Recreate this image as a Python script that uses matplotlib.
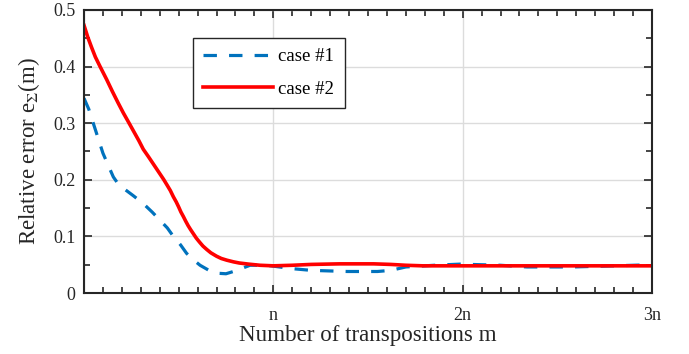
import matplotlib
matplotlib.use("Agg")
import matplotlib.pyplot as plt
from matplotlib.ticker import MultipleLocator

plt.rcParams['font.family'] = ['Liberation Serif', 'DejaVu Serif']
plt.rcParams['mathtext.fontset'] = 'stix'

case1_x = [0, 0.025, 0.049, 0.075, 0.10, 0.13, 0.155, 0.18, 0.208, 0.26, 0.313, 0.36, 0.40, 0.44,
           0.472, 0.51, 0.542, 0.58, 0.613, 0.66, 0.70, 0.75, 0.789, 0.83, 0.877, 0.965, 1.1, 1.2,
           1.39, 1.55, 1.62, 1.70, 1.85, 1.985, 2.2, 2.34, 2.58, 2.8, 3.0]
case1_y = [0.344, 0.325, 0.30, 0.273, 0.247, 0.224, 0.205, 0.193, 0.185, 0.172, 0.158, 0.143, 0.129,
           0.115, 0.10, 0.085, 0.070, 0.058, 0.049, 0.04, 0.035, 0.034, 0.038, 0.043, 0.049, 0.049,
           0.043, 0.040, 0.038, 0.038, 0.040, 0.046, 0.049, 0.051, 0.049, 0.046, 0.046, 0.048, 0.05]

case2_x = [0, 0.02, 0.04, 0.06, 0.085, 0.12, 0.15, 0.18, 0.208, 0.235, 0.26, 0.29, 0.313, 0.34,
           0.36, 0.38, 0.40, 0.42, 0.44, 0.456, 0.472, 0.487, 0.50, 0.512, 0.525, 0.537, 0.55, 0.563,
           0.577, 0.593, 0.61, 0.628, 0.648, 0.67, 0.70, 0.725, 0.754, 0.79, 0.82, 0.87, 0.93, 1.0,
           1.1, 1.2, 1.35, 1.53, 1.62, 1.7, 1.79, 2.0, 2.5, 3.0]
case2_y = [0.473, 0.452, 0.434, 0.417, 0.40, 0.377, 0.356, 0.336, 0.318, 0.302, 0.287, 0.269, 0.254,
           0.241, 0.231, 0.221, 0.211, 0.201, 0.19, 0.181, 0.170, 0.161, 0.152, 0.143, 0.135, 0.127,
           0.119, 0.112, 0.105, 0.097, 0.09, 0.083, 0.077, 0.071, 0.065, 0.061, 0.058, 0.055, 0.053,
           0.051, 0.049, 0.048, 0.049, 0.0505, 0.0515, 0.0515, 0.0505, 0.049, 0.048, 0.048, 0.048,
           0.048]

xtick_pos = [0, 1, 2, 3]
xtick_labels = ['', 'n', '2n', '3n']
ytick_pos = [0, 0.1, 0.2, 0.3, 0.4, 0.5]
ytick_labels = ['0', '0.1', '0.2', '0.3', '0.4', '0.5']

fig = plt.figure(figsize=(6.89, 3.54), dpi=100)
ax = fig.add_axes([84/689, 1-293/354, (652-84)/689, (293-10)/354])

ax.plot(case1_x, case1_y, color='#0072BD', lw=2.3, dashes=(4.2, 3.8), label='case #1')
ax.plot(case2_x, case2_y, color='#FF0000', lw=2.6, label='case #2')

ax.set_xlim(0, 3)
ax.set_ylim(0, 0.5)
ax.set_xticks(xtick_pos, xtick_labels)
ax.set_yticks(ytick_pos, ytick_labels)
ax.xaxis.set_minor_locator(MultipleLocator(0.1))
ax.yaxis.set_minor_locator(MultipleLocator(0.05))
ax.tick_params(which='both', direction='in', top=True, right=True, labelsize=13, colors='#262626')
ax.tick_params(which='major', length=6, width=1.2)
ax.tick_params(which='minor', length=4, width=1.2)
ax.tick_params(axis='x', which='major', pad=10)
ax.tick_params(axis='y', which='major', pad=6)
for s in ax.spines.values():
    s.set_linewidth(1.5)
    s.set_color('#262626')
ax.grid(True, which='major', color='#dcdcdc', lw=1)
ax.set_axisbelow(True)

ax.set_xlabel('Number of transpositions m', fontsize=16.6, color='#262626', labelpad=1)
ax.set_ylabel(r'Relative error e$_{\Sigma}$(m)', fontsize=16.5, color='#262626', labelpad=8)

leg = ax.legend(loc='upper left', bbox_to_anchor=(0.192, 0.901), fontsize=13.5, handlelength=3.7,
                fancybox=False, framealpha=1, edgecolor='#262626', borderpad=0.55, labelspacing=0.8,
                handletextpad=0.3, borderaxespad=0)
leg.get_frame().set_linewidth(1.0)

fig.savefig('out.png', dpi=100)
